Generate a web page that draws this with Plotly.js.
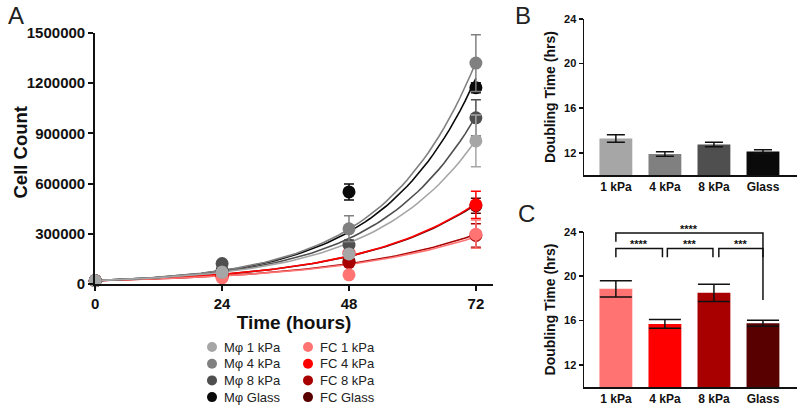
<!DOCTYPE html>
<html><head><meta charset="utf-8">
<script src="https://cdn.plot.ly/plotly-3.0.1.min.js"></script>
<style>html,body{margin:0;padding:0;background:#fff}#chart{width:800px;height:414px}</style>
</head><body><div id="chart"></div>
<script>
// ---------- data ----------
const hours = [0, 24, 48, 72];
const substrates = ['1 kPa', '4 kPa', '8 kPa', 'Glass'];
const mphiLabels = ['Mφ 1 kPa', 'Mφ 4 kPa', 'Mφ 8 kPa', 'Mφ Glass'];
const fcLabels = ['FC 1 kPa', 'FC 4 kPa', 'FC 8 kPa', 'FC Glass'];

// cell counts (mean) per time point
const mphi1kPa = [20000, 70000, 180000, 855000];
const mphi4kPa = [20000, 72000, 330000, 1320000];
const mphi8kPa = [20000, 122000, 233000, 993000];
const mphiGlass = [20000, 80000, 550000, 1173000];
const fc1kPa = [20000, 36000, 55000, 298000];
const fc4kPa = [20000, 52000, 185000, 473000];
const fc8kPa = [20000, 45000, 128000, 290000];
const fcGlass = [20000, 50000, 135000, 468000];

// error (SEM)
const mphi1kPaErr = [3000, 8000, 22000, 155000];
const mphi4kPaErr = [3000, 10000, 78000, 170000];
const mphi8kPaErr = [3000, 10000, 30000, 108000];
const mphiGlassErr = [3000, 8000, 48000, 30000];
const fc1kPaErr = [2000, 10000, 8000, 85000];
const fc4kPaErr = [2000, 8000, 25000, 82000];
const fc8kPaErr = [2000, 8000, 20000, 70000];
const fcGlassErr = [2000, 8000, 20000, 45000];

// exponential fit: N0 * 2^(t / doubling time)
const fitN0 = 20000;
const mphiDoubling = [13.28, 11.9, 12.75, 12.12];
const mphiDoublingErr = [0.33, 0.2, 0.2, 0.15];
const fcDoubling = [18.86, 15.7, 18.5, 15.76];
const fcDoublingErr = [0.73, 0.4, 0.78, 0.27];

// significance comparisons (category index pairs)
const compPairs = [[0, 1], [1, 2], [2, 3], [0, 3]];
const compStars = ['****', '***', '***', '****'];

// ---------- styles ----------
const mphiColors = ['#a6a6a6', '#808080', '#4f4f4f', '#0a0a0a'];
const fcColors = ['#ff7373', '#ff0000', '#a80000', '#580000'];
const FONT = 'Arial, "Liberation Sans", sans-serif';
const INK = '#111';
const W = 800, H = 414;

const mphiSeries = [mphi1kPa, mphi4kPa, mphi8kPa, mphiGlass];
const mphiErrs = [mphi1kPaErr, mphi4kPaErr, mphi8kPaErr, mphiGlassErr];
const fcSeries = [fc1kPa, fc4kPa, fc8kPa, fcGlass];
const fcErrs = [fc1kPaErr, fc4kPaErr, fc8kPaErr, fcGlassErr];

const traces = [];
// fit curves
const tFit = [];
for (let t = 0; t <= 72; t += 1) tFit.push(t);
function fitTrace(td, color) {
  return {x: tFit, y: tFit.map(t => fitN0 * Math.pow(2, t / td)), mode: 'lines',
    line: {color: color, width: 1.6}, showlegend: false, hoverinfo: 'skip', xaxis: 'x', yaxis: 'y', cliponaxis: false};
}
for (let i = 3; i >= 0; i--) traces.push(fitTrace(fcDoubling[i], fcColors[i]));
for (let i = 3; i >= 0; i--) traces.push(fitTrace(mphiDoubling[i], mphiColors[i]));
// points
function pointTrace(y, err, color) {
  return {x: hours, y: y, mode: 'markers', marker: {color: color, size: 13},
    error_y: {type: 'data', array: err, color: color, thickness: 1.5, width: 5},
    showlegend: false, xaxis: 'x', yaxis: 'y', cliponaxis: false};
}
for (let i = 3; i >= 0; i--) traces.push(pointTrace(fcSeries[i], fcErrs[i], fcColors[i]));
for (let i = 3; i >= 0; i--) traces.push(pointTrace(mphiSeries[i], mphiErrs[i], mphiColors[i]));

// bars B
traces.push({type: 'bar', x: substrates, y: mphiDoubling, width: 0.67,
  marker: {color: mphiColors}, base: 0,
  error_y: {type: 'data', array: mphiDoublingErr, color: INK, thickness: 1.5, width: 9},
  xaxis: 'x2', yaxis: 'y2', showlegend: false});
// bars C
traces.push({type: 'bar', x: substrates, y: fcDoubling, width: 0.67,
  marker: {color: fcColors}, base: 0,
  error_y: {type: 'data', array: fcDoublingErr, color: INK, thickness: 1.5, width: 16},
  xaxis: 'x3', yaxis: 'y3', showlegend: false});

const shapes = [];
const annotations = [];

// brackets
const lineStyle = {color: INK, width: 1.5};
const smallInset = [[0, -0.05], [0.05, -0.02], [0.1, 0]];
for (let k = 0; k < compPairs.length; k++) {
  const [a, b] = compPairs[k];
  let x0, x1, yTop, yDrop0, yDrop1;
  if (k < 3) {
    x0 = a + smallInset[k][0]; x1 = b + smallInset[k][1];
    yTop = 22.5; yDrop0 = 21.7; yDrop1 = 21.7;
  } else {
    x0 = a; x1 = b; yTop = 23.9; yDrop0 = 23.1; yDrop1 = 17.85;
  }
  shapes.push({type: 'path', xref: 'x3', yref: 'y3',
    path: `M ${x0},${yDrop0} L ${x0},${yTop} L ${x1},${yTop} L ${x1},${yDrop1}`, line: lineStyle});
  annotations.push({xref: 'x3', yref: 'y3', x: (x0 + x1) / 2, y: yTop, yanchor: 'bottom',
    text: compStars[k], showarrow: false, yshift: -4,
    font: {family: FONT, size: 11, color: INK, weight: 'bold'}});
}

// legend (two columns, drawn as swatches + labels)
const legendCols = [[mphiLabels, mphiColors, 212], [fcLabels, fcColors, 308]];
legendCols.forEach(([labels, colors, cx]) => {
  labels.forEach((lab, i) => {
    const cy = 347 + i * 16.7, r = 5;
    shapes.push({type: 'circle', xref: 'paper', yref: 'paper',
      x0: (cx - r) / W, x1: (cx + r) / W, y0: 1 - (cy + r) / H, y1: 1 - (cy - r) / H,
      fillcolor: colors[i], line: {width: 0}});
    annotations.push({xref: 'paper', yref: 'paper', x: (cx + 10) / W, y: 1 - cy / H,
      xanchor: 'left', yanchor: 'middle', text: lab, showarrow: false,
      font: {family: FONT, size: 13, color: '#222'}});
  });
});

// panel letters
[['A', 16], ['B', 523]].forEach(([t, px]) => {
  annotations.push({xref: 'paper', yref: 'paper', x: px / W, y: 1,
    xanchor: 'center', yanchor: 'top', text: t, showarrow: false,
    font: {family: FONT, size: 24, color: '#222'}});
});
annotations.push({xref: 'paper', yref: 'paper', x: 526 / W, y: 1 - 214 / H,
  xanchor: 'center', yanchor: 'middle', text: 'C', showarrow: false,
  font: {family: FONT, size: 24, color: '#222'}});
// panel A y title
annotations.push({xref: 'paper', yref: 'paper', x: 20 / W, y: 1 - 152.5 / H,
  xanchor: 'center', yanchor: 'middle', text: 'Cell Count', textangle: -90, showarrow: false,
  font: {family: FONT, size: 18.5, color: INK, weight: 'bold'}});

const tickA = {family: FONT, size: 15, color: INK, weight: 'bold'};
const tickBC = {family: FONT, size: 11, color: INK, weight: 'bold'};
const barY = (dom) => ({domain: dom, range: [10, 24], tickvals: [12, 16, 20, 24], ticks: 'outside',
  ticklen: 4, tickwidth: 1.5, tickcolor: INK, showline: true, linecolor: INK, linewidth: 1.5,
  showgrid: false, zeroline: false, tickfont: tickBC,
  title: {text: 'Doubling Time (hrs)', font: {family: FONT, size: 14, color: INK, weight: 'bold'}, standoff: 5}});
const barX = (anchor) => ({domain: [0.73, 0.996], anchor: anchor, type: 'category', range: [-0.65, 3.69],
  showline: true, linecolor: INK, linewidth: 1.5, ticks: '', showgrid: false,
  tickfont: {family: FONT, size: 12, color: INK, weight: 'bold'}});

const layout = {
  width: W, height: H, margin: {l: 0, r: 0, t: 0, b: 0},
  paper_bgcolor: '#fff', plot_bgcolor: 'rgba(0,0,0,0)',
  font: {family: FONT, color: INK}, showlegend: false,
  xaxis: {domain: [0.119, 0.616], range: [0, 75.2], tickvals: hours, ticks: 'outside', ticklen: 5,
    tickwidth: 2, tickcolor: INK, showline: true, linecolor: INK, linewidth: 2, showgrid: false,
    zeroline: false, tickfont: tickA, anchor: 'y',
    title: {text: 'Time (hours)', font: {family: FONT, size: 19, color: INK, weight: 'bold'}, standoff: 2}},
  yaxis: {domain: [0.314, 0.9203], range: [0, 1500000], tickvals: [0, 300000, 600000, 900000, 1200000, 1500000],
    tickformat: 'd', ticks: 'outside', ticklen: 5, tickwidth: 2, tickcolor: INK, showline: true,
    linecolor: INK, linewidth: 2, showgrid: false, zeroline: false, tickfont: tickA, anchor: 'x'},
  xaxis2: barX('y2'),
  yaxis2: Object.assign(barY([0.577, 0.954]), {anchor: 'x2'}),
  xaxis3: barX('y3'),
  yaxis3: Object.assign(barY([0.065, 0.44]), {anchor: 'x3'}),
  shapes: shapes, annotations: annotations, bargap: 0.3
};
Plotly.newPlot('chart', traces, layout, {displayModeBar: false, staticPlot: true});
</script></body></html>
